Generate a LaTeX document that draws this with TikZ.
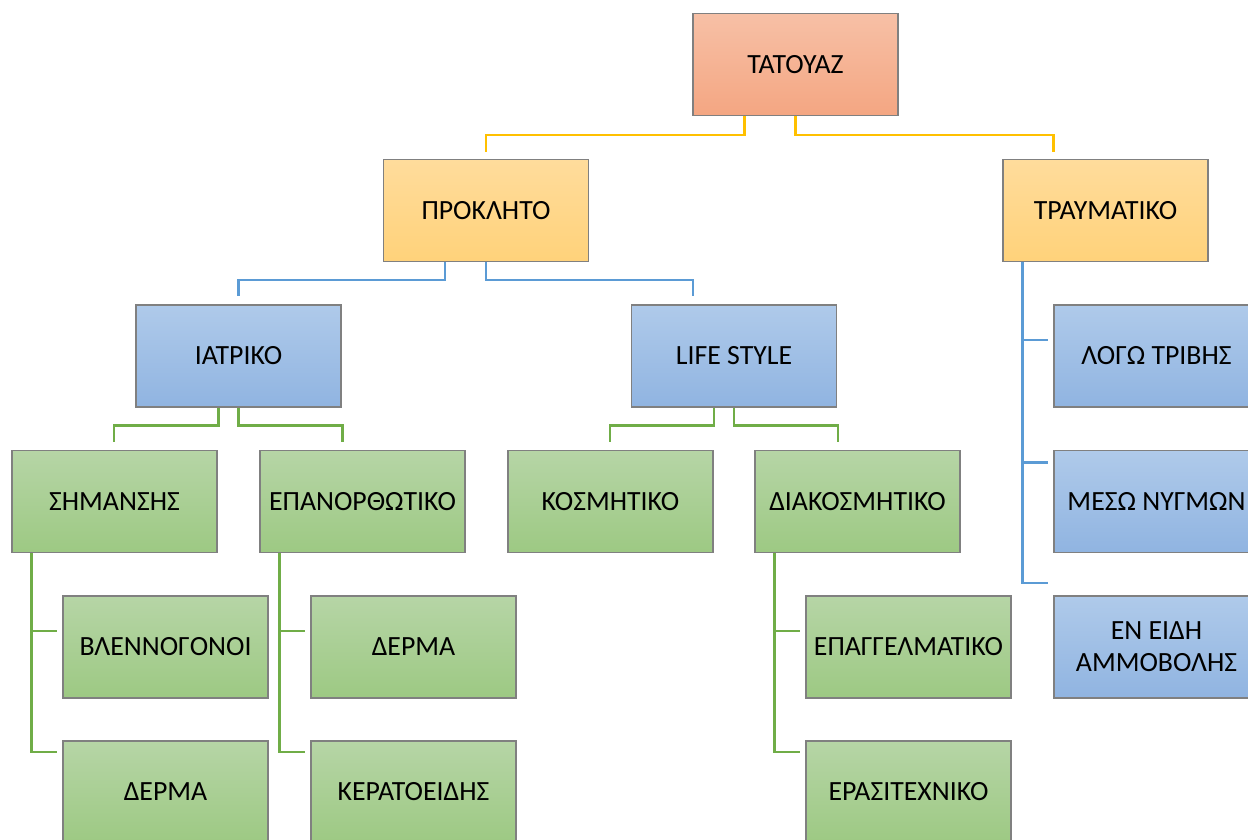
\documentclass[tikz,border=0pt]{standalone}
\usepackage{fontspec}
\setmainfont{Carlito}
\usepackage{tikz}

\tikzset{
	box/.style={draw=black!50, line width=1.2pt, minimum width=205pt, minimum height=102pt,
		inner sep=0pt, align=center, font=\fontsize{27.8}{32}\selectfont},
	rootbox/.style={box, top color=rootTop, bottom color=rootBot},
	ybox/.style={box, top color=yTop, bottom color=yBot},
	bbox/.style={box, top color=bTop, bottom color=bBot},
	gbox/.style={box, top color=gTop, bottom color=gBot},
	yline/.style={draw=yLine, line width=2.5pt},
	bline/.style={draw=bLine, line width=2.5pt},
	gline/.style={draw=gLine, line width=2.5pt}
}
\definecolor{rootTop}{RGB}{247,192,166}
\definecolor{rootBot}{RGB}{244,166,130}
\definecolor{yTop}{RGB}{255,220,156}
\definecolor{yBot}{RGB}{255,210,122}
\definecolor{bTop}{RGB}{175,202,234}
\definecolor{bBot}{RGB}{144,180,225}
\definecolor{gTop}{RGB}{182,213,166}
\definecolor{gBot}{RGB}{157,201,131}
\definecolor{yLine}{RGB}{255,192,0}
\definecolor{bLine}{RGB}{91,155,213}
\definecolor{gLine}{RGB}{112,173,71}

\begin{document}
\begin{tikzpicture}[x=1pt,y=-1pt]
	\useasboundingbox (0,0) rectangle (1248,839);
	
	\node[rootbox] (tat) at (795.5,64.5) {ΤΑΤΟΥΑΖ};
	\node[ybox] (prok) at (486,210.5) {ΠΡΟΚΛΗΤΟ};
	\node[ybox] (trav) at (1105.5,210.5) {ΤΡΑΥΜΑΤΙΚΟ};
	\node[bbox] (iatr) at (238.5,356) {ΙΑΤΡΙΚΟ};
	\node[bbox] (life) at (734,356) {LIFE STYLE};
	\node[bbox] (logo) at (1156.5,356) {ΛΟΓΩ ΤΡΙΒΗΣ};
	\node[bbox] (meso) at (1156.5,501.5) {ΜΕΣΩ ΝΥΓΜΩΝ};
	\node[bbox] (enid) at (1156.5,647) {ΕΝ ΕΙΔΗ\\ΑΜΜΟΒΟΛΗΣ};
	\node[gbox] (sim) at (114.5,501.5) {ΣΗΜΑΝΣΗΣ};
	\node[gbox] (epan) at (362.5,501.5) {ΕΠΑΝΟΡΘΩΤΙΚΟ};
	\node[gbox] (kosm) at (610.5,501.5) {ΚΟΣΜΗΤΙΚΟ};
	\node[gbox] (diak) at (857.5,501.5) {ΔΙΑΚΟΣΜΗΤΙΚΟ};
	\node[gbox] (blen) at (165.5,647) {ΒΛΕΝΝΟΓΟΝΟΙ};
	\node[gbox] (dermaA) at (165.5,792) {ΔΕΡΜΑ};
	\node[gbox] (dermaB) at (413.5,647) {ΔΕΡΜΑ};
	\node[gbox] (kerat) at (413.5,792) {ΚΕΡΑΤΟΕΙΔΗΣ};
	\node[gbox] (epag) at (908.5,647) {ΕΠΑΓΓΕΛΜΑΤΙΚΟ};
	\node[gbox] (eras) at (908.5,792) {ΕΡΑΣΙΤΕΧΝΙΚΟ};
	
	% level 1
	\draw[yline] ([xshift=-51pt]tat.south) -- ++(0,19) -| ([yshift=7pt]prok.north);
	\draw[yline] (tat.south) -- ++(0,19) -| ([yshift=7pt,xshift=-52pt]trav.north);
	
	% level 2
	\draw[bline] ([xshift=-41pt]prok.south) -- ++(0,18) -| ([yshift=8pt]iatr.north);
	\draw[bline] (prok.south) -- ++(0,18) -| ([yshift=8pt,xshift=-41pt]life.north);
	\draw[bline] ([xshift=20pt]trav.south west) |- ([xshift=-5pt,yshift=16pt]logo.west);
	\draw[bline] ([xshift=20pt]trav.south west) |- ([xshift=-5pt,yshift=39pt]meso.west);
	\draw[bline] ([xshift=20pt]trav.south west) |- ([xshift=-5pt,yshift=64pt]enid.west);
	
	% level 3
	\draw[gline] ([xshift=-20pt]iatr.south) -- ++(0,18) -| ([yshift=8pt,xshift=-0.5pt]sim.north);
	\draw[gline] (iatr.south) -- ++(0,18) -| ([yshift=8pt,xshift=-20pt]epan.north);
	\draw[gline] ([xshift=-20pt]life.south) -- ++(0,18) -| ([yshift=8pt,xshift=-0.5pt]kosm.north);
	\draw[gline] (life.south) -- ++(0,18) -| ([yshift=8pt,xshift=-19.5pt]diak.north);
	
	% level 4
	\draw[gline] ([xshift=20pt]sim.south west) |- ([xshift=-5pt,yshift=16pt]blen.west);
	\draw[gline] ([xshift=20pt]sim.south west) |- ([xshift=-5pt,yshift=40pt]dermaA.west);
	\draw[gline] ([xshift=20pt]epan.south west) |- ([xshift=-5pt,yshift=16pt]dermaB.west);
	\draw[gline] ([xshift=20pt]epan.south west) |- ([xshift=-5pt,yshift=40pt]kerat.west);
	\draw[gline] ([xshift=20pt]diak.south west) |- ([xshift=-5pt,yshift=16pt]epag.west);
	\draw[gline] ([xshift=20pt]diak.south west) |- ([xshift=-5pt,yshift=40pt]eras.west);
	
\end{tikzpicture}
\end{document}
